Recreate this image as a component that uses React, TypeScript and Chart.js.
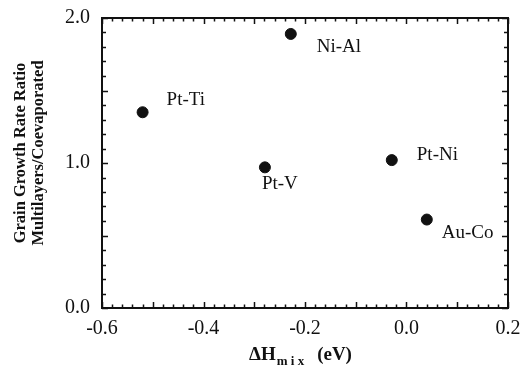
import React, { useEffect, useRef } from "react";
import { Chart, registerables } from "chart.js";

Chart.register(...registerables);

const alloys = ["Pt-Ti", "Ni-Al", "Pt-V", "Pt-Ni", "Au-Co"];
const deltaHmix = [-0.52, -0.228, -0.279, -0.029, 0.04];
const growthRatio = [1.35, 1.89, 0.97, 1.02, 0.61];
const labelOffsets = [
  [24, -12],
  [26, 13],
  [-3, 17],
  [25, -5],
  [15, 13],
];
const xTicks = [-0.6, -0.4, -0.2, 0.0, 0.2];
const yTicks = [0.0, 1.0, 2.0];

const SERIF = "'Liberation Serif', 'Times New Roman', serif";

const decorPlugin = {
  id: "decor",
  afterDraw(chart: any) {
    const ctx = chart.ctx;
    const { left, right, top, bottom } = chart.chartArea;
    const xs = chart.scales.x;
    const ys = chart.scales.y;
    ctx.save();
    ctx.strokeStyle = "#111";
    // frame
    ctx.lineWidth = 2;
    ctx.strokeRect(left, top, right - left, bottom - top);
    // x ticks (inward, top and bottom)
    ctx.lineWidth = 1.5;
    for (let i = 0; i <= 40; i++) {
      const v = -0.6 + i * 0.02;
      const px = Math.round(xs.getPixelForValue(v)) + 0.5;
      const len = i % 5 === 0 ? 6 : 3.5;
      ctx.beginPath();
      ctx.moveTo(px, bottom);
      ctx.lineTo(px, bottom - len);
      ctx.moveTo(px, top);
      ctx.lineTo(px, top + len);
      ctx.stroke();
    }
    // y ticks (inward, left and right)
    for (let i = 0; i <= 20; i++) {
      const v = i * 0.1;
      const py = Math.round(ys.getPixelForValue(v)) + 0.5;
      const len = i % 5 === 0 ? 6 : 4;
      ctx.beginPath();
      ctx.moveTo(left, py);
      ctx.lineTo(left + len, py);
      ctx.moveTo(right, py);
      ctx.lineTo(right - len, py);
      ctx.stroke();
    }
    // point labels
    const meta = chart.getDatasetMeta(0);
    ctx.fillStyle = "#111";
    ctx.font = `19px ${SERIF}`;
    ctx.textAlign = "left";
    ctx.textBaseline = "middle";
    meta.data.forEach((pt: any, i: number) => {
      const [dx, dy] = labelOffsets[i];
      ctx.fillText(alloys[i], pt.x + dx, pt.y + dy);
    });
    // y title (two lines, rotated)
    ctx.font = `bold 16.5px ${SERIF}`;
    ctx.textAlign = "center";
    ctx.translate(21, 153);
    ctx.rotate(-Math.PI / 2);
    ctx.fillText("Grain Growth Rate Ratio", 0, 0);
    ctx.fillText("Multilayers/Coevaporated", 0, 18);
    ctx.setTransform(1, 0, 0, 1, 0, 0);
    // x title with subscript
    ctx.textAlign = "left";
    ctx.textBaseline = "alphabetic";
    const base = 360;
    let x = 249;
    ctx.font = `bold 19px ${SERIF}`;
    ctx.fillText("ΔH", x, base);
    x += ctx.measureText("ΔH").width + 1;
    ctx.font = `bold 13px ${SERIF}`;
    const sub = "m i x";
    ctx.fillText(sub, x, base + 5);
    x += ctx.measureText(sub).width + 13;
    ctx.font = `bold 19px ${SERIF}`;
    ctx.fillText("(eV)", x, base);
    ctx.restore();
  },
};

export default function App() {
  const ref = useRef<HTMLCanvasElement>(null);
  useEffect(() => {
    if (!ref.current) return;
    const chart = new Chart(ref.current, {
      type: "scatter",
      data: {
        datasets: [
          {
            data: deltaHmix.map((x, i) => ({ x, y: growthRatio[i] })),
            backgroundColor: "#111",
            borderColor: "#111",
            pointRadius: 5.5,
            pointHoverRadius: 5.5,
          },
        ],
      },
      options: {
        animation: false,
        responsive: false,
        maintainAspectRatio: false,
        layout: { padding: { left: 0, right: 12, top: 18, bottom: 0 } },
        plugins: {
          legend: { display: false },
          tooltip: { enabled: false },
        },
        scales: {
          x: {
            type: "linear",
            min: -0.6,
            max: 0.2,
            afterBuildTicks: (s: any) => {
              s.ticks = xTicks.map((v) => ({ value: v }));
            },
            afterFit: (s: any) => {
              s.height = 61;
              s.paddingLeft = 0;
              s.paddingRight = 0;
            },
            ticks: {
              callback: (v: any) => Number(v).toFixed(1),
              font: { family: SERIF, size: 20 },
              color: "#111",
              padding: 9,
              maxRotation: 0,
            },
            grid: { display: false, drawTicks: false },
            border: { display: false },
          },
          y: {
            type: "linear",
            min: 0,
            max: 2,
            afterBuildTicks: (s: any) => {
              s.ticks = yTicks.map((v) => ({ value: v }));
            },
            afterFit: (s: any) => {
              s.width = 102;
              s.paddingTop = 0;
              s.paddingBottom = 0;
            },
            ticks: {
              callback: (v: any) => Number(v).toFixed(1),
              font: { family: SERIF, size: 20 },
              color: "#111",
              padding: 12,
            },
            grid: { display: false, drawTicks: false },
            border: { display: false },
          },
        },
      },
      plugins: [decorPlugin],
    });
    return () => chart.destroy();
  }, []);
  return (
    <div style={{ position: "fixed", left: 0, top: 0, width: 520, height: 369, background: "#fff" }}>
      <canvas ref={ref} width={520} height={369} style={{ width: 520, height: 369 }} />
    </div>
  );
}
